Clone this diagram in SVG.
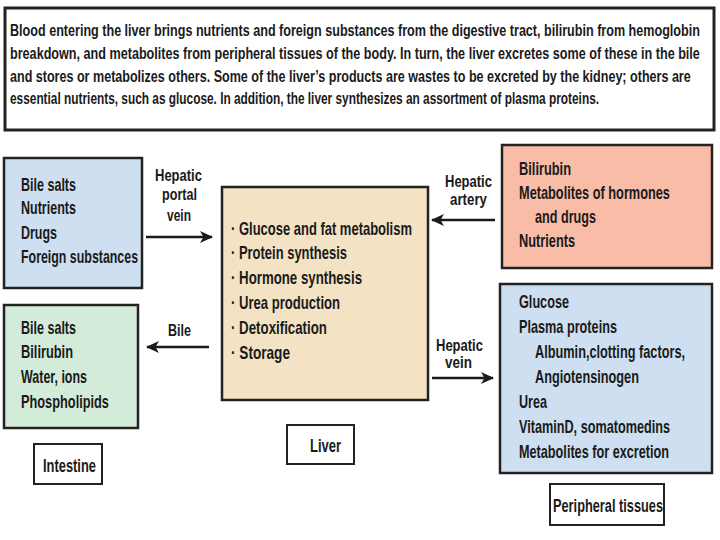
<svg xmlns="http://www.w3.org/2000/svg" width="720" height="540" viewBox="0 0 720 540">
<defs>
<style>
text{font-family:"Liberation Sans",Arial,sans-serif;font-weight:bold;fill:#1a1a1a}
.p{font-size:16.5px}
.t{font-size:18px}
.n{font-size:19px}
.l{font-size:16px}
.box{stroke:#222;stroke-width:2.5}
.lbl{fill:#fff;stroke:#222;stroke-width:2}
.c{stroke:#1a1a1a;stroke-width:2.5;fill:none}
</style>
<marker id="ah" viewBox="0 0 13 12" refX="12" refY="6" markerWidth="13" markerHeight="12" markerUnits="userSpaceOnUse" orient="auto">
<path d="M0,0 L13,6 L0,12 L3.5,6 z" fill="#1a1a1a"/>
</marker>
</defs>
<rect width="720" height="540" fill="#fff"/>
<g id="summary">
<rect x="5" y="8" width="709" height="122" fill="#fff" stroke="#222" stroke-width="3"/>
<text class="p" transform="translate(10,36) scale(0.764,1)" textLength="903" lengthAdjust="spacingAndGlyphs">Blood entering the liver brings nutrients and foreign substances from the digestive tract, bilirubin from hemoglobin</text>
<text class="p" transform="translate(10,59) scale(0.764,1)" textLength="903" lengthAdjust="spacingAndGlyphs">breakdown, and metabolites from peripheral tissues of the body.  In turn, the liver excretes some of these in the bile</text>
<text class="p" transform="translate(10,82) scale(0.764,1)" textLength="891" lengthAdjust="spacingAndGlyphs">and stores or metabolizes others.  Some of the liver’s products are wastes to be excreted by the kidney; others are</text>
<text class="p" transform="translate(10,104) scale(0.764,1)" textLength="771" lengthAdjust="spacingAndGlyphs">essential nutrients, such as glucose.  In addition, the liver synthesizes an assortment of plasma proteins.</text>
</g>
<g id="digestive-tract">
<rect class="box" x="4" y="158" width="138" height="130" fill="#cddff0"/>
<text class="t" transform="translate(21,191) scale(0.69,1)" textLength="79.7" lengthAdjust="spacingAndGlyphs">Bile salts</text>
<text class="t" transform="translate(21,214) scale(0.69,1)" textLength="79.7" lengthAdjust="spacingAndGlyphs">Nutrients</text>
<text class="t" transform="translate(21,239) scale(0.69,1)" textLength="52.2" lengthAdjust="spacingAndGlyphs">Drugs</text>
<text class="t" transform="translate(21,263) scale(0.69,1)" textLength="169.6" lengthAdjust="spacingAndGlyphs">Foreign substances</text>
</g>
<g id="liver">
<rect class="box" x="222" y="187" width="206" height="213" fill="#f3e2c4"/>
<text class="t" transform="translate(231,235) scale(0.69,1)" textLength="262.3" lengthAdjust="spacingAndGlyphs">· Glucose and fat metabolism</text>
<text class="t" transform="translate(231,259) scale(0.69,1)" textLength="168.1" lengthAdjust="spacingAndGlyphs">· Protein synthesis</text>
<text class="t" transform="translate(231,284) scale(0.69,1)" textLength="189.9" lengthAdjust="spacingAndGlyphs">· Hormone synthesis</text>
<text class="t" transform="translate(231,309) scale(0.69,1)" textLength="158" lengthAdjust="spacingAndGlyphs">· Urea production</text>
<text class="t" transform="translate(231,334) scale(0.69,1)" textLength="139.1" lengthAdjust="spacingAndGlyphs">· Detoxification</text>
<text class="t" transform="translate(231,359) scale(0.69,1)" textLength="85.5" lengthAdjust="spacingAndGlyphs">· Storage</text>
</g>
<g id="liver-label">
<rect class="lbl" x="287" y="425" width="67" height="39"/>
<text class="n" transform="translate(310,452) scale(0.65,1)" textLength="47.7" lengthAdjust="spacingAndGlyphs">Liver</text>
</g>
<g id="hepatic-artery-source">
<rect class="box" x="502" y="145" width="210" height="123" fill="#f9bca6"/>
<text class="t" transform="translate(519,175) scale(0.69,1)" textLength="75.4" lengthAdjust="spacingAndGlyphs">Bilirubin</text>
<text class="t" transform="translate(519,199) scale(0.69,1)" textLength="218.8" lengthAdjust="spacingAndGlyphs">Metabolites of hormones</text>
<text class="t" transform="translate(535,223) scale(0.69,1)" textLength="88.4" lengthAdjust="spacingAndGlyphs">and drugs</text>
<text class="t" transform="translate(519,247) scale(0.69,1)" textLength="81.2" lengthAdjust="spacingAndGlyphs">Nutrients</text>
</g>
<g id="intestine">
<rect class="box" x="4" y="305" width="134" height="123" fill="#d3ebd9"/>
<text class="t" transform="translate(21,334) scale(0.69,1)" textLength="79.7" lengthAdjust="spacingAndGlyphs">Bile salts</text>
<text class="t" transform="translate(21,358) scale(0.69,1)" textLength="75.4" lengthAdjust="spacingAndGlyphs">Bilirubin</text>
<text class="t" transform="translate(21,383) scale(0.69,1)" textLength="95.7" lengthAdjust="spacingAndGlyphs">Water, ions</text>
<text class="t" transform="translate(21,408) scale(0.69,1)" textLength="127.5" lengthAdjust="spacingAndGlyphs">Phospholipids</text>
</g>
<g id="intestine-label">
<rect class="lbl" x="34" y="444" width="68" height="40"/>
<text class="n" transform="translate(43,472) scale(0.65,1)" textLength="81.5" lengthAdjust="spacingAndGlyphs">Intestine</text>
</g>
<g id="peripheral">
<rect class="box" x="500" y="284" width="212" height="189" fill="#cddff0"/>
<text class="t" transform="translate(519,308) scale(0.69,1)" textLength="72.5" lengthAdjust="spacingAndGlyphs">Glucose</text>
<text class="t" transform="translate(519,333) scale(0.69,1)" textLength="142" lengthAdjust="spacingAndGlyphs">Plasma proteins</text>
<text class="t" transform="translate(535,358) scale(0.69,1)" textLength="217.4" lengthAdjust="spacingAndGlyphs">Albumin,clotting factors,</text>
<text class="t" transform="translate(535,383) scale(0.69,1)" textLength="150.7" lengthAdjust="spacingAndGlyphs">Angiotensinogen</text>
<text class="t" transform="translate(519,408) scale(0.69,1)" textLength="40.6" lengthAdjust="spacingAndGlyphs">Urea</text>
<text class="t" transform="translate(519,433) scale(0.69,1)" textLength="218.8" lengthAdjust="spacingAndGlyphs">VitaminD, somatomedins</text>
<text class="t" transform="translate(519,458) scale(0.69,1)" textLength="217.4" lengthAdjust="spacingAndGlyphs">Metabolites for excretion</text>
</g>
<g id="peripheral-label">
<rect class="lbl" x="550" y="484" width="114" height="41"/>
<text class="n" transform="translate(553,512) scale(0.65,1)" textLength="169.2" lengthAdjust="spacingAndGlyphs">Peripheral tissues</text>
</g>
<g id="connectors">
<path class="c" d="M146,237 H212" marker-end="url(#ah)"/>
<text class="l" transform="translate(155,181) scale(0.81,1)" textLength="58" lengthAdjust="spacingAndGlyphs">Hepatic</text>
<text class="l" transform="translate(162,200) scale(0.81,1)" textLength="43.2" lengthAdjust="spacingAndGlyphs">portal</text>
<text class="l" transform="translate(167,221) scale(0.81,1)" textLength="29.6" lengthAdjust="spacingAndGlyphs">vein</text>
<path class="c" d="M495,220 H432" marker-end="url(#ah)"/>
<text class="l" transform="translate(445,187) scale(0.81,1)" textLength="58" lengthAdjust="spacingAndGlyphs">Hepatic</text>
<text class="l" transform="translate(450,205) scale(0.81,1)" textLength="45.7" lengthAdjust="spacingAndGlyphs">artery</text>
<path class="c" d="M209,347 H147" marker-end="url(#ah)"/>
<text class="l" transform="translate(168,336) scale(0.81,1)" textLength="28.4" lengthAdjust="spacingAndGlyphs">Bile</text>
<path class="c" d="M432,378 H493" marker-end="url(#ah)"/>
<text class="l" transform="translate(436,351) scale(0.81,1)" textLength="58" lengthAdjust="spacingAndGlyphs">Hepatic</text>
<text class="l" transform="translate(445,368) scale(0.81,1)" textLength="33.3" lengthAdjust="spacingAndGlyphs">vein</text>
</g>
</svg>
